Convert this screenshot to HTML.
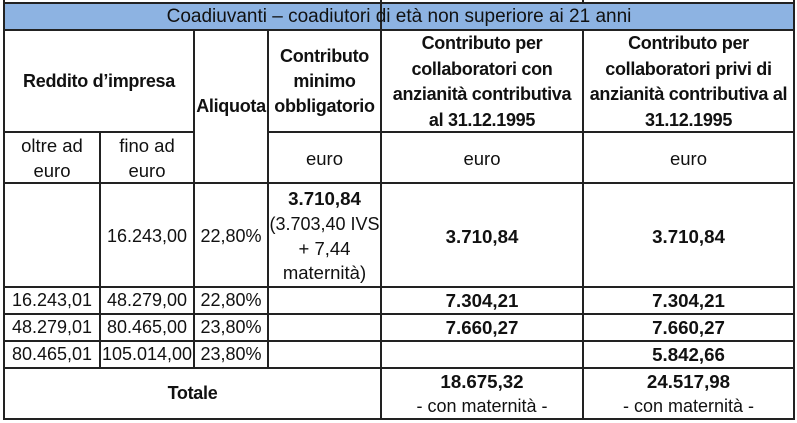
<!DOCTYPE html>
<html>
<head>
<meta charset="utf-8">
<style>
  html,body{margin:0;padding:0;background:#fff;}
  #w{position:relative;width:797px;height:423px;overflow:hidden;background:#fff;}
  .h{position:absolute;height:2px;background:#222;}
  .v{position:absolute;width:2px;background:#222;}
  .c{position:absolute;display:flex;align-items:center;justify-content:center;text-align:center;white-space:nowrap;color:#111;}
  .r{font-family:"Liberation Sans","DejaVu Sans",sans-serif;font-size:18.5px;line-height:25px;}
  .n{font-family:"Liberation Sans","DejaVu Sans",sans-serif;font-size:18px;line-height:25px;}
  .b{font-family:"Liberation Sans","DejaVu Sans",sans-serif;font-weight:bold;font-size:18px;letter-spacing:-0.3px;line-height:25px;}
  .bn{font-family:"Liberation Sans","DejaVu Sans",sans-serif;font-weight:bold;font-size:18.7px;line-height:25px;}
</style>
</head>
<body>
<div id="w">
  <!-- blue title band -->
  <div style="position:absolute;left:4px;top:3px;width:790px;height:27px;background:#8db3e2;"></div>

  <!-- horizontal lines -->
  <div class="h" style="top:2px;left:3px;width:792px;"></div>
  <div class="h" style="top:29px;left:3px;width:792px;"></div>
  <div class="h" style="top:131px;left:3px;width:192px;"></div>
  <div class="h" style="top:131px;left:267px;width:528px;"></div>
  <div class="h" style="top:182px;left:3px;width:792px;"></div>
  <div class="h" style="top:286px;left:3px;width:792px;"></div>
  <div class="h" style="top:313px;left:3px;width:792px;"></div>
  <div class="h" style="top:340px;left:3px;width:792px;"></div>
  <div class="h" style="top:367px;left:3px;width:792px;"></div>
  <div class="h" style="top:418px;left:3px;width:792px;"></div>

  <!-- vertical lines -->
  <div class="v" style="left:3px;top:0;height:420px;"></div>
  <div class="v" style="left:99px;top:131px;height:238px;"></div>
  <div class="v" style="left:193px;top:29px;height:340px;"></div>
  <div class="v" style="left:267px;top:29px;height:340px;"></div>
  <div class="v" style="left:380px;top:0;height:420px;"></div>
  <div class="v" style="left:582px;top:0;height:4px;"></div>
  <div class="v" style="left:582px;top:29px;height:391px;"></div>
  <div class="v" style="left:793px;top:0;height:420px;"></div>

  <!-- title -->
  <div class="c r" style="left:5px;top:4px;width:788px;height:25px;font-size:19px;">Coadiuvanti – coadiutori di età non superiore ai 21 anni</div>

  <!-- header row -->
  <div class="c b" style="left:5px;top:31px;width:188px;height:100px;">Reddito d’impresa</div>
  <div class="c b" style="left:195px;top:31px;width:72px;height:151px;">Aliquota</div>
  <div class="c b" style="left:269px;top:31px;width:111px;height:100px;">Contributo<br>minimo<br>obbligatorio</div>
  <div class="c b" style="left:382px;top:32px;width:200px;height:100px;line-height:25.5px;">Contributo per<br>collaboratori con<br>anzianità contributiva<br>al 31.12.1995</div>
  <div class="c b" style="left:584px;top:32px;width:209px;height:100px;line-height:25.5px;">Contributo per<br>collaboratori privi di<br>anzianità contributiva al<br>31.12.1995</div>

  <!-- sub header -->
  <div class="c r" style="left:5px;top:133px;width:94px;height:49px;">oltre ad<br>euro</div>
  <div class="c r" style="left:101px;top:133px;width:92px;height:49px;">fino ad<br>euro</div>
  <div class="c r" style="left:269px;top:133px;width:111px;height:51px;">euro</div>
  <div class="c r" style="left:382px;top:133px;width:200px;height:51px;">euro</div>
  <div class="c r" style="left:584px;top:133px;width:209px;height:51px;">euro</div>

  <!-- row 1 -->
  <div class="c n" style="left:101px;top:184px;width:92px;height:104px;">16.243,00</div>
  <div class="c n" style="left:195px;top:184px;width:72px;height:104px;">22,80%</div>
  <div class="c r" style="left:269px;top:184px;width:111px;height:104px;line-height:24.7px;"><div><span class="bn">3.710,84</span><br><span class="n">(3.703,40 IVS</span><br>+ 7,44<br>maternità)</div></div>
  <div class="c bn" style="left:382px;top:184px;width:200px;height:104px;">3.710,84</div>
  <div class="c bn" style="left:584px;top:184px;width:209px;height:104px;">3.710,84</div>

  <!-- row 2 -->
  <div class="c n" style="left:5px;top:288px;width:94px;height:25px;">16.243,01</div>
  <div class="c n" style="left:101px;top:288px;width:92px;height:25px;">48.279,00</div>
  <div class="c n" style="left:195px;top:288px;width:72px;height:25px;">22,80%</div>
  <div class="c bn" style="left:382px;top:288px;width:200px;height:25px;">7.304,21</div>
  <div class="c bn" style="left:584px;top:288px;width:209px;height:25px;">7.304,21</div>

  <!-- row 3 -->
  <div class="c n" style="left:5px;top:315px;width:94px;height:25px;">48.279,01</div>
  <div class="c n" style="left:101px;top:315px;width:92px;height:25px;">80.465,00</div>
  <div class="c n" style="left:195px;top:315px;width:72px;height:25px;">23,80%</div>
  <div class="c bn" style="left:382px;top:315px;width:200px;height:25px;">7.660,27</div>
  <div class="c bn" style="left:584px;top:315px;width:209px;height:25px;">7.660,27</div>

  <!-- row 4 -->
  <div class="c n" style="left:5px;top:342px;width:94px;height:25px;">80.465,01</div>
  <div class="c n" style="left:100px;top:342px;width:94px;height:25px;">105.014,00</div>
  <div class="c n" style="left:195px;top:342px;width:72px;height:25px;">23,80%</div>
  <div class="c bn" style="left:584px;top:342px;width:209px;height:25px;">5.842,66</div>

  <!-- total -->
  <div class="c b" style="left:5px;top:369px;width:375px;height:49px;">Totale</div>
  <div class="c n" style="left:382px;top:369px;width:200px;height:49px;line-height:24.5px;"><div><span class="bn">18.675,32</span><br>- con maternità -</div></div>
  <div class="c n" style="left:584px;top:369px;width:209px;height:49px;line-height:24.5px;"><div><span class="bn">24.517,98</span><br>- con maternità -</div></div>
</div>
</body>
</html>
